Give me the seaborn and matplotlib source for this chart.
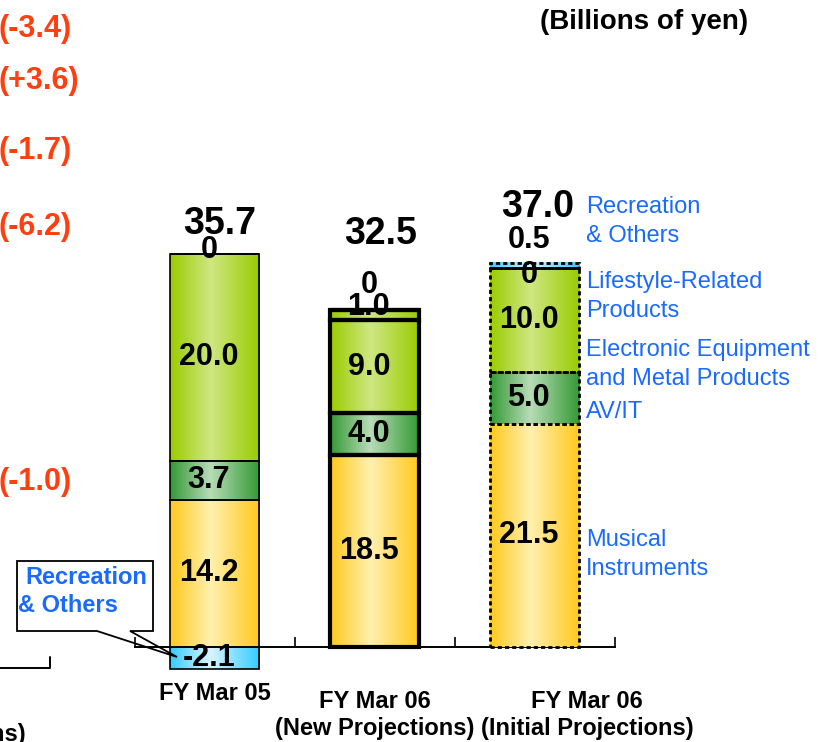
import numpy as np
import matplotlib
matplotlib.use("Agg")
import matplotlib.pyplot as plt
import matplotlib.transforms as mtransforms
from matplotlib.colors import LinearSegmentedColormap
from matplotlib.patches import Polygon
from matplotlib.lines import Line2D
import seaborn as sns

# data (billions of yen)
categories = ["FY Mar 05", "FY Mar 06 New", "FY Mar 06 Initial"]
cat_labels = ["FY Mar 05", "FY Mar 06\n(New Projections)", "FY Mar 06\n(Initial Projections)"]
musical = [14.2, 18.5, 21.5]
av_it = [3.7, 4.0, 5.0]
electronic = [20.0, 9.0, 10.0]
lifestyle = [0.0, 1.0, 0.0]
recreation = [-2.1, 0.0, 0.5]
totals = ["35.7", "32.5", "37.0"]
changes = ["(-3.4)", "(+3.6)", "(-1.7)", "(-6.2)", "(-1.0)"]
seg_names = ["Musical\nInstruments", "AV/IT", "Electronic Equipment\nand Metal Products",
             "Lifestyle-Related\nProducts", "Recreation\n& Others"]

# styling
W, H = 825, 742
seg_colors = [("#ffc81c", "#fff0b0"), ("#339933", "#b8dcb8"), ("#99cc00", "#cfe782"),
              ("#99cc00", "#cfe782"), ("#33ccff", "#d8f4ff")]
bar_edges = [("-", 1.2), ("-", 3.0), ((0, (1.5, 1.1)), 2.0)]
blue = "#1a6aff"
red = "#ff3f0f"

sns.set_theme(style="white")
plt.rcParams["font.family"] = ["Liberation Sans", "DejaVu Sans"]
plt.rcParams["text.color"] = "black"

fig = plt.figure(figsize=(W / 100, H / 100), dpi=100)
ppu = 10.38  # px per unit
base_px = 647
ax = fig.add_axes([134.5 / W, 0, 480 / W, 1])


def fx(px):
    return px / W


def fy(py):
    return 1 - py / H


layers = [musical, av_it, electronic, lifestyle, recreation]
pos_bottom = np.zeros(3)
neg_bottom = np.zeros(3)
seg_patches = []
for i, vals in enumerate(layers):
    n0 = len(ax.patches)
    sns.barplot(x=categories, y=vals, ax=ax, color=seg_colors[i][0], width=0.56,
                saturation=1, errorbar=None)
    new = ax.patches[n0:]
    for j, (p, v) in enumerate(zip(new, vals)):
        if v >= 0:
            p.set_y(pos_bottom[j])
            pos_bottom[j] += v
        else:
            p.set_y(neg_bottom[j])
            neg_bottom[j] += v
        seg_patches.append((i, j, p, v))

for i, j, p, v in seg_patches:
    x0, y0, w, h = p.get_x(), p.get_y(), p.get_width(), p.get_height()
    if h != 0:
        edge, mid = seg_colors[i]
        cmap = LinearSegmentedColormap.from_list("g", [(0, edge), (0.45, mid), (1, edge)])
        ax.imshow(np.linspace(0, 1, 200)[None, :], cmap=cmap, aspect="auto",
                  extent=(x0, x0 + w, min(y0, y0 + h), max(y0, y0 + h)),
                  interpolation="bilinear", zorder=2.8)
    ls, lw = bar_edges[j]
    p.set_facecolor("none")
    p.set_edgecolor("black")
    p.set_linestyle(ls)
    p.set_linewidth(lw)
    p.set_joinstyle("miter")
    p.set_zorder(3)

# segment labels
label_nudge = {(3, 0): 0.35, (3, 1): 0.75, (4, 1): 2.4, (3, 2): -0.65, (4, 2): 2.45}
for i, j, p, v in seg_patches:
    txt = "0" if v == 0 else f"{v:.1f}"
    yc = p.get_y() + v / 2 + label_nudge.get((i, j), 0)
    ax.text(j - 0.035, yc, txt, ha="center", va="center", fontsize=22,
            fontweight="bold", color="black", zorder=5)

# totals
total_nudge = [(0.03, 2.85), (0.035, 7.3), (0.02, 5.4)]
for j, t in enumerate(totals):
    dx, dy = total_nudge[j]
    ax.text(j + dx, pos_bottom[j] + dy, t, ha="center", va="center", fontsize=27,
            fontweight="bold", color="black", zorder=5)

ax.set_xlim(-0.5, 2.5)
ax.set_ylim(-(H - base_px) / ppu, base_px / ppu)
ax.set_xticks([])
ax.set_yticks([])
ax.set_xticks([-0.5, 0.5, 1.5, 2.5], minor=True)
ax.tick_params(axis="x", which="minor", bottom=True, direction="in", length=7.5,
               width=1.2, color="black")
for s in ["top", "left", "right"]:
    ax.spines[s].set_visible(False)
ax.spines["bottom"].set_position(("data", 0))
ax.spines["bottom"].set_color("black")
ax.spines["bottom"].set_linewidth(1.4)
ax.set_xlabel("")
ax.set_ylabel("")
ax.patch.set_alpha(0)

# category labels
blend = mtransforms.blended_transform_factory(ax.transData, fig.transFigure)
cat_pos = [(0.0, 693), (0.0, 702), (0.33, 702)]
for j, lab in enumerate(cat_labels):
    dx, ytop = cat_pos[j]
    for k, line in enumerate(lab.split("\n")):
        ax.text(j + dx, fy(ytop + 26 * k), line, transform=blend, ha="center",
                va="center", fontsize=17, fontweight="bold", clip_on=False)

# segment names on the right
name_y = [540, 412, 350, 282, 207]
for name, y in zip(seg_names, name_y):
    for k, line in enumerate(name.split("\n")):
        fig.text(fx(586), fy(y + 29 * k), line, ha="left", va="center",
                 fontsize=17, color=blue)

# unit
fig.text(fx(644), fy(22), "(Billions of yen)", ha="center", va="center",
         fontsize=20, fontweight="bold")

# changes on the left
change_y = [29, 81, 151, 227, 482]
for t, y in zip(changes, change_y):
    fig.text(fx(-1), fy(y), t, ha="left", va="center", fontsize=22,
             fontweight="bold", color=red)

# callout for Recreation & Others
pts = [(17, 561), (153, 561), (153, 631), (130, 631), (177, 657), (97, 631), (17, 631)]
fig.add_artist(Polygon([(fx(a), fy(b)) for a, b in pts], closed=True,
                       transform=fig.transFigure, facecolor="none",
                       edgecolor="black", linewidth=1.3, zorder=6))
fig.text(fx(25), fy(578), "Recreation", ha="left", va="center", fontsize=17,
         fontweight="bold", color=blue)
fig.text(fx(18), fy(606), "& Others", ha="left", va="center", fontsize=17,
         fontweight="bold", color=blue)

# piece of the neighbouring chart
fig.add_artist(Line2D([fx(0), fx(50), fx(50)], [fy(668), fy(668), fy(657)],
                      transform=fig.transFigure, color="black", linewidth=1.4))
fig.text(fx(26), fy(734), "(Initial Projections)", ha="right", va="center",
         fontsize=17, fontweight="bold")

fig.savefig("out.png", dpi=100)
